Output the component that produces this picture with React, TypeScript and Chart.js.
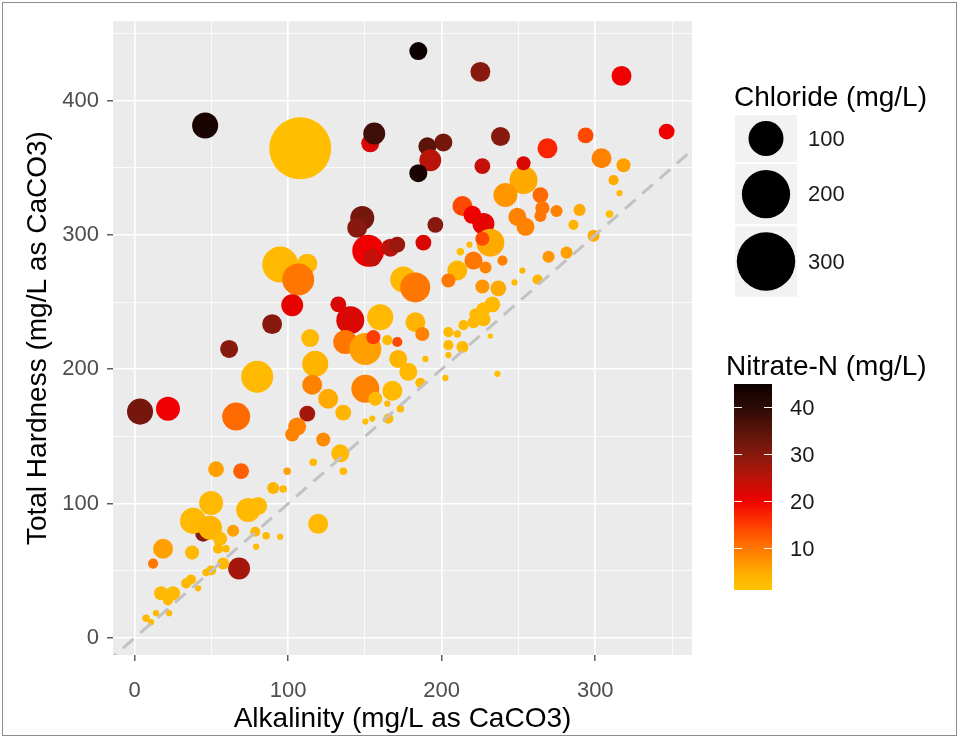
import React, { useEffect, useRef } from 'react';
import { Chart, registerables } from 'chart.js';

Chart.register(...registerables);

// ---------------- data ----------------
const ALKALINITY = [
  184.8, 225.2, 317.1, 46.0, 107.9, 153.5, 156.1, 346.5, 238.3, 268.9,
  293.7, 201.1, 190.7, 192.6, 184.8, 226.5, 253.3, 253.3, 304.1, 318.4,
  311.9, 315.8, 309.3, 241.5, 264.3, 265.6, 264.3, 274.8, 289.8, 285.8,
  213.5, 220.0, 227.2, 249.3, 254.6, 195.9, 298.9, 281.3, 188.1, 231.7,
  226.5, 218.1, 212.2, 220.7, 228.5, 210.2, 204.4, 239.6, 252.6, 247.4,
  262.4, 269.6, 226.5, 236.9, 233.0, 227.2, 222.0, 227.2, 220.7, 214.2,
  204.4, 210.2, 231.7, 204.4, 213.5, 189.4, 204.4, 202.4, 236.3, 94.9,
  112.5, 106.6, 102.7, 89.6, 132.7, 140.5, 160.0, 137.2, 150.3, 155.5,
  171.1, 164.6, 171.7, 178.3, 182.9, 187.4, 186.1, 114.4, 117.7, 115.7,
  126.1, 135.9, 112.5, 105.9, 102.7, 150.3, 156.8, 167.9, 165.3, 173.1,
  164.6, 154.8, 150.3, 122.9, 134.0, 116.4, 136.0, 99.4, 96.8, 175.0,
  182.8, 61.6, 79.9, 66.2, 3.6, 21.8, 53.1, 69.4, 90.3, 49.9,
  74.0, 80.5, 44.7, 38.1, 49.2, 55.7, 64.2, 78.6, 85.7, 94.8,
  79.2, 54.4, 18.6, 37.5, 59.6, 12.1, 68.1, 57.7, 49.9, 46.6,
  33.6, 36.8, 41.4, 17.3, 25.1, 21.8, 7.5, 14.0, 22.5, 10.8,
  119.6, 148.3, 145.0, 152.2, 154.8, 166.6, 171.1,
];

const HARDNESS = [
  436.8, 421.3, 418.3, 381.4, 364.4, 368.1, 375.5, 376.9, 373.2, 364.4,
  374.0, 368.8, 365.9, 355.5, 345.9, 351.1, 340.7, 353.3, 357.0, 351.8,
  340.7, 331.1, 315.6, 329.6, 329.6, 320.0, 314.1, 317.8, 318.6, 307.5,
  321.5, 314.9, 308.2, 313.4, 306.0, 307.5, 299.3, 286.8, 294.2, 294.2,
  297.1, 292.7, 287.5, 280.9, 275.7, 273.5, 266.1, 280.9, 273.5, 264.6,
  266.8, 283.8, 261.6, 260.2, 248.3, 244.6, 240.9, 237.3, 235.0, 232.8,
  227.6, 226.2, 224.7, 218.0, 216.6, 207.7, 210.6, 193.6, 196.6, 277.9,
  278.6, 266.8, 247.6, 233.6, 248.3, 236.5, 238.7, 220.3, 215.1, 223.9,
  220.3, 221.7, 207.7, 198.1, 235.0, 226.2, 190.0, 223.2, 204.0, 188.5,
  178.1, 167.8, 167.0, 157.4, 151.5, 185.5, 178.1, 184.0, 163.3, 170.7,
  174.4, 163.3, 161.1, 147.8, 137.5, 130.8, 124.2, 124.2, 110.9, 266.8,
  260.9, 215.1, 194.4, 164.8, 168.5, 170.7, 125.6, 124.2, 111.6, 100.5,
  95.3, 98.3, 77.6, 87.2, 82.0, 73.9, 79.8, 79.1, 76.1, 75.4,
  68.0, 66.5, 66.5, 63.6, 66.5, 55.4, 51.7, 55.4, 50.3, 48.8,
  40.7, 43.6, 37.0, 33.3, 33.3, 28.1, 14.8, 18.5, 18.5, 11.8,
  85.0, 312.6, 305.2, 288.2, 283.1, 290.5, 292.7,
];

const CHLORIDE = [
  22, 28, 28, 52, 340, 22, 35, 16, 25, 28,
  16, 22, 22, 35, 22, 16, 61, 12, 28, 12,
  5, 1, 2, 43, 16, 12, 8, 8, 8, 5,
  28, 22, 35, 22, 22, 16, 8, 8, 16, 61,
  12, 1, 2, 22, 8, 28, 12, 5, 1, 1,
  5, 8, 12, 16, 16, 12, 8, 12, 8, 5,
  5, 2, 0.5, 5, 8, 1, 1, 1, 1, 106,
  28, 82, 35, 28, 16, 61, 52, 43, 82, 12,
  5, 5, 22, 22, 28, 12, 5, 22, 52, 28,
  28, 16, 16, 22, 12, 61, 12, 28, 5, 2,
  1, 1, 1, 12, 22, 2, 2, 2, 2, 52,
  71, 22, 82, 61, 52, 43, 16, 16, 8, 43,
  43, 22, 16, 52, 43, 12, 8, 5, 2, 1,
  1, 5, 28, 12, 2, 5, 35, 8, 5, 2,
  5, 5, 1, 12, 12, 5, 2, 1, 1, 1,
  28, 43, 28, 82, 22, 22, 16,
];

const NITRATE = [
  45, 30, 20, 43, 2, 22, 38, 20, 30, 17,
  14, 32, 35, 25, 43, 24, 5, 22, 9, 6,
  5, 3, 2, 7, 11, 10, 10, 9, 5, 4,
  14, 20, 21, 9, 9, 30, 5, 6, 22, 5,
  14, 3, 2, 10, 9, 4, 10, 9, 4, 3,
  4, 7, 7, 5, 3, 3, 3, 3, 3, 3,
  3, 3, 2, 3, 3, 3, 3, 3, 2, 3,
  3, 10, 21, 30, 22, 22, 3, 10, 6, 15,
  14, 3, 4, 3, 4, 9, 3, 3, 4, 9,
  5, 4, 27, 9, 9, 9, 3, 3, 3, 3,
  3, 2, 2, 8, 3, 3, 3, 6, 3, 3,
  10, 30, 3, 11, 32, 20, 6, 12, 4, 3,
  3, 3, 30, 3, 4, 3, 6, 3, 3, 3,
  3, 3, 6, 3, 3, 10, 27, 3, 3, 3,
  3, 3, 3, 3, 3, 3, 3, 3, 3, 3,
  3, 32, 30, 20, 24, 25, 28,
];

const X_TICKS = [0, 50, 100, 150, 200, 250, 300, 350];
const Y_TICKS = [0, 50, 100, 150, 200, 250, 300, 350, 400, 450];
const X_LIMITS = [-14, 363];
const Y_LIMITS = [-12.6, 459];
const ONE_TO_ONE = [-30, 480];
const CHLORIDE_BREAKS = [100, 200, 300];
const NITRATE_BREAKS = [10, 20, 30, 40];
const NITRATE_LIMITS = [1, 45];

const X_TITLE = 'Alkalinity (mg/L as CaCO3)';
const Y_TITLE = 'Total Hardness (mg/L as CaCO3)';
const SIZE_TITLE = 'Chloride (mg/L)';
const COLOR_TITLE = 'Nitrate-N (mg/L)';

// ---------------- styles ----------------
const FONT = '"Liberation Sans", Arial, sans-serif';
const TITLE_SIZE = 28;
const TEXT_SIZE = 22;
const COLOR_STOPS: [number, number[]][] = [
  [1, [255, 196, 0]],
  [4, [255, 180, 0]],
  [7, [255, 150, 0]],
  [10, [255, 118, 0]],
  [15, [255, 60, 0]],
  [20, [240, 0, 0]],
  [25, [185, 20, 10]],
  [30, [135, 25, 15]],
  [35, [90, 20, 10]],
  [40, [45, 10, 5]],
  [45, [12, 0, 0]],
];

function rgb(c: number[]) {
  return `rgb(${Math.round(c[0])},${Math.round(c[1])},${Math.round(c[2])})`;
}
function colorOf(v: number): string {
  if (v <= COLOR_STOPS[0][0]) return rgb(COLOR_STOPS[0][1]);
  for (let i = 1; i < COLOR_STOPS.length; i++) {
    const [v1, c1] = COLOR_STOPS[i];
    const [v0, c0] = COLOR_STOPS[i - 1];
    if (v <= v1) {
      const t = (v - v0) / (v1 - v0);
      return rgb(c0.map((c, k) => c + (c1[k] - c) * t));
    }
  }
  return rgb(COLOR_STOPS[COLOR_STOPS.length - 1][1]);
}
function sizeOf(cl: number): number {
  return 1.5 + 1.6 * Math.sqrt(cl);
}

const decorPlugin = {
  id: 'decor',
  beforeDraw(chart: any) {
    const { ctx, chartArea: a } = chart;
    ctx.save();
    ctx.fillStyle = '#EBEBEB';
    ctx.fillRect(a.left, a.top, a.right - a.left, a.bottom - a.top);
    ctx.restore();
  },
  afterDraw(chart: any) {
    const { ctx } = chart;
    ctx.save();
    // size legend
    ctx.textBaseline = 'middle';
    ctx.textAlign = 'left';
    ctx.fillStyle = '#000';
    ctx.font = `${TITLE_SIZE}px ${FONT}`;
    ctx.fillText(SIZE_TITLE, 734, 98);
    const keyLeft = 735;
    const keyWidth = 62;
    let y = 115;
    CHLORIDE_BREAKS.forEach((b) => {
      const r = sizeOf(b);
      const h = 2 * r + 12;
      ctx.fillStyle = '#F2F2F2';
      ctx.fillRect(keyLeft, y, keyWidth, h);
      ctx.fillStyle = '#000';
      ctx.beginPath();
      ctx.arc(keyLeft + keyWidth / 2, y + h / 2, r, 0, Math.PI * 2);
      ctx.fill();
      ctx.fillStyle = '#1A1A1A';
      ctx.font = `${TEXT_SIZE}px ${FONT}`;
      ctx.fillText(String(b), 808, y + h / 2 + 1);
      y += h + 2;
    });

    // colour bar
    ctx.fillStyle = '#000';
    ctx.font = `${TITLE_SIZE}px ${FONT}`;
    ctx.fillText(COLOR_TITLE, 726, 367);
    const barL = 734, barR = 772, barT = 384, barB = 590;
    const [lo, hi] = NITRATE_LIMITS;
    const grad = ctx.createLinearGradient(0, barB, 0, barT);
    for (let i = 0; i <= 40; i++) {
      const v = lo + ((hi - lo) * i) / 40;
      grad.addColorStop(i / 40, colorOf(v));
    }
    ctx.fillStyle = grad;
    ctx.fillRect(barL, barT, barR - barL, barB - barT);
    ctx.strokeStyle = '#FFFFFF';
    ctx.lineWidth = 1;
    ctx.font = `${TEXT_SIZE}px ${FONT}`;
    NITRATE_BREAKS.forEach((b) => {
      const yy = Math.round(barB - ((b - lo) / (hi - lo)) * (barB - barT)) + 0.5;
      ctx.beginPath();
      ctx.moveTo(barL, yy);
      ctx.lineTo(barL + 8, yy);
      ctx.moveTo(barR - 8, yy);
      ctx.lineTo(barR, yy);
      ctx.stroke();
      ctx.fillStyle = '#1A1A1A';
      ctx.fillText(String(b), 790, yy + 1);
    });

    // frame
    ctx.strokeStyle = '#8C8C8C';
    ctx.lineWidth = 1;
    ctx.strokeRect(2.5, 2.5, 954, 733);
    ctx.restore();
  },
};

const isMajor = (ctx: any) => ctx.tick && ctx.tick.value % 100 === 0;

export default function App() {
  const ref = useRef<HTMLCanvasElement | null>(null);
  useEffect(() => {
    if (!ref.current) return;
    const points = ALKALINITY.map((x, i) => ({ x, y: HARDNESS[i], r: sizeOf(CHLORIDE[i]) }));
    const chart = new Chart(ref.current, {
      type: 'bubble',
      data: {
        datasets: [
          {
            type: 'bubble',
            data: points,
            backgroundColor: NITRATE.map(colorOf),
            borderWidth: 0,
            order: 2,
          } as any,
          {
            type: 'line',
            data: [
              { x: ONE_TO_ONE[0], y: ONE_TO_ONE[0] },
              { x: ONE_TO_ONE[1], y: ONE_TO_ONE[1] },
            ],
            borderColor: '#C2C2C2',
            borderWidth: 3,
            borderDash: [14, 9],
            pointRadius: 0,
            fill: false,
            clip: 0,
            order: 1,
          } as any,
        ],
      },
      options: {
        animation: false,
        responsive: false,
        events: [],
        layout: { autoPadding: false, padding: { top: 17, right: 268, bottom: 0, left: 0 } },
        plugins: { legend: { display: false }, tooltip: { enabled: false } },
        scales: {
          x: {
            type: 'linear',
            min: X_LIMITS[0],
            max: X_LIMITS[1],
            afterBuildTicks: (s: any) => { s.ticks = X_TICKS.map((value) => ({ value })); },
            afterFit: (s: any) => {
              s.height = 85;
            },
            border: { display: false },
            grid: {
              color: '#FFFFFF',
              lineWidth: (c: any) => (isMajor(c) ? 1.6 : 0.8),
              tickColor: (c: any) => (isMajor(c) ? '#333333' : 'rgba(0,0,0,0)'),
              tickWidth: 1.2,
              tickLength: 6,
            },
            ticks: {
              autoSkip: false,
              maxRotation: 0,
              minRotation: 0,
              padding: 17,
              color: '#4D4D4D',
              font: { family: FONT, size: TEXT_SIZE },
              callback: (v: any) => (v % 100 === 0 ? String(v) : ''),
            },
            title: {
              display: true,
              text: X_TITLE,
              color: '#000',
              font: { family: FONT, size: TITLE_SIZE },
              padding: { top: 0, bottom: 4 },
            },
          },
          y: {
            type: 'linear',
            min: Y_LIMITS[0],
            max: Y_LIMITS[1],
            afterBuildTicks: (s: any) => { s.ticks = Y_TICKS.map((value) => ({ value })); },
            afterFit: (s: any) => {
              s.width = 113;
            },
            border: { display: false },
            grid: {
              color: '#FFFFFF',
              lineWidth: (c: any) => (isMajor(c) ? 1.6 : 0.8),
              tickColor: (c: any) => (isMajor(c) ? '#333333' : 'rgba(0,0,0,0)'),
              tickWidth: 1.2,
              tickLength: 6,
            },
            ticks: {
              autoSkip: false,
              padding: 8,
              color: '#4D4D4D',
              font: { family: FONT, size: TEXT_SIZE },
              callback: (v: any) => (v % 100 === 0 ? String(v) : ''),
            },
            title: {
              display: true,
              text: Y_TITLE,
              color: '#000',
              font: { family: FONT, size: TITLE_SIZE },
              padding: { top: 21, bottom: 0 },
            },
          },
        },
      },
      plugins: [decorPlugin],
    } as any);
    return () => chart.destroy();
  }, []);

  return (
    <div style={{ position: 'fixed', left: 0, top: 0, width: 960, height: 740, background: '#FFFFFF' }}>
      <canvas ref={ref} width={960} height={740} style={{ display: 'block', width: 960, height: 740 }} />
    </div>
  );
}
